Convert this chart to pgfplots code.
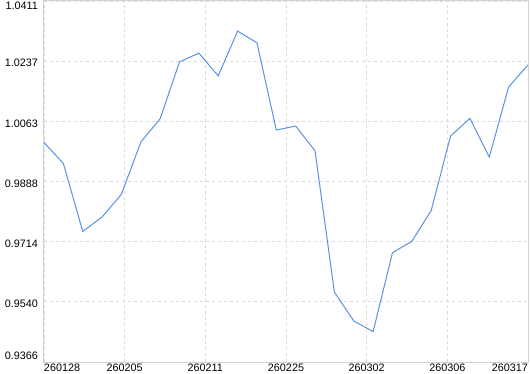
\documentclass[border=0pt]{standalone}
\usepackage{fontspec}
\setmainfont{Liberation Sans}
\usepackage{pgfplots}
\pgfplotsset{compat=1.18}
\definecolor{linec}{RGB}{88,146,228}
\definecolor{gridc}{RGB}{218,218,218}
\definecolor{framec}{RGB}{210,210,210}
\begin{document}
\begin{tikzpicture}
\begin{axis}[
  scale only axis,
  width=484bp, height=361bp,
  xmin=0, xmax=25,
  ymin=0.9366, ymax=1.0411,
  xtick={0,4.16667,8.33333,12.5,16.66667,20.83333,25},
  xticklabels={\makebox[0pt][l]{260128},260205,260211,260225,260302,260306,\makebox[0pt][r]{260317}},
  ytick={0.9366,0.95402,0.97143,0.98885,1.00627,1.02368,1.0411},
  yticklabels={\raisebox{8.7bp}{0.9366},0.9540,0.9714,0.9888,1.0063,1.0237,\raisebox{-3bp}{1.0411}},
  major tick length=0pt,
  grid=major,
  major grid style={gridc, dash pattern=on 3bp off 3bp, line width=0.8bp},
  axis line style={framec, line width=1bp},
  tick label style={font=\fontsize{10.8bp}{12bp}\selectfont, text=black},
  xticklabel style={anchor=north, inner sep=0pt, yshift=-1.3bp},
  yticklabel style={anchor=base east, inner sep=0pt, xshift=-6bp, yshift=-5.7bp},
  /pgf/number format/assume math mode=true,
  clip=false,
]
\addplot[linec, line width=1bp] coordinates {
(0,1.00017) (1,0.99407) (2,0.97442) (3,0.97857) (4,0.98516) (5,1.00026)
(6,1.00702) (7,1.02348) (8,1.02601) (9,1.01942) (10,1.03239) (11,1.02900)
(12,1.00374) (13,1.00490) (14,0.99773) (15,0.95680) (16,0.94850) (17,0.94539)
(18,0.96824) (19,0.97152) (20,0.98043) (21,1.00200) (22,1.00714) (23,0.99590)
(24,1.01622) (25,1.02261)
};
\end{axis}
\pgfresetboundingbox
\path ([xshift=-44bp,yshift=-12bp]current axis.south west) rectangle ([xshift=2bp,yshift=1bp]current axis.north east);
\end{tikzpicture}
\end{document}
